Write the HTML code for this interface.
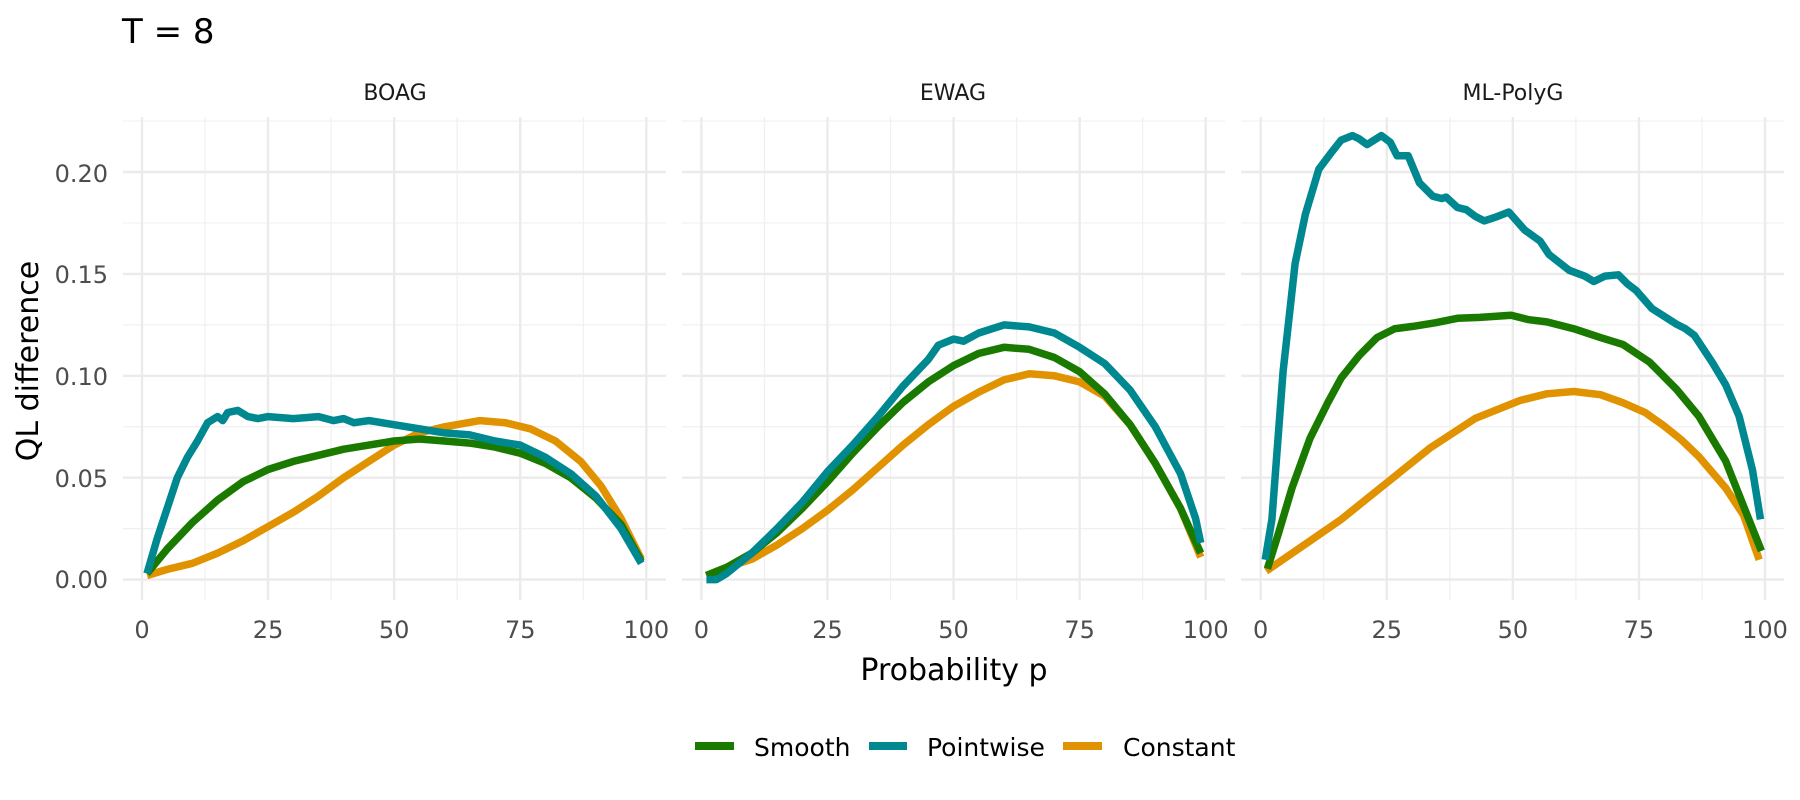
<!DOCTYPE html>
<html><head><meta charset="utf-8"><style>
html,body{margin:0;padding:0;background:#fff}
svg{display:block}
text{font-family:"DejaVu Sans","Liberation Sans",sans-serif}
</style></head><body>
<svg id="s" width="1800" height="800" xmlns="http://www.w3.org/2000/svg">
<rect width="1800" height="800" fill="#fff"/>
<text x="122" y="43" font-size="34" fill="#000">T = 8</text>
<g id="grid"></g>
<g id="series" fill="none" stroke-width="7.5" stroke-linejoin="round" stroke-linecap="butt"></g>
<g font-size="24" fill="#4d4d4d" text-anchor="end">
<text x="108" y="588">0.00</text>
<text x="108" y="487">0.05</text>
<text x="108" y="385">0.10</text>
<text x="108" y="283">0.15</text>
<text x="108" y="182">0.20</text>
</g>
<g id="xt" font-size="24" fill="#4d4d4d" text-anchor="middle"></g>
<g font-size="22" fill="#1a1a1a" text-anchor="middle">
<text x="395" y="100">BOAG</text>
<text x="953" y="100">EWAG</text>
<text x="1513" y="100">ML-PolyG</text>
</g>
<text x="954" y="680" font-size="30" text-anchor="middle" fill="#000">Probability p</text>
<text transform="translate(38,361) rotate(-90)" font-size="30" text-anchor="middle" fill="#000">QL difference</text>
<g stroke-width="8">
<line x1="695" y1="746" x2="734" y2="746" stroke="#1a7a00"/>
<line x1="869" y1="746" x2="907" y2="746" stroke="#008890"/>
<line x1="1063" y1="746" x2="1102" y2="746" stroke="#e09200"/>
</g>
<g font-size="25" fill="#000">
<text x="754" y="756">Smooth</text>
<text x="927" y="756">Pointwise</text>
<text x="1123" y="756">Constant</text>
</g>
</svg>
<script>
var NS="http://www.w3.org/2000/svg";
var panels=[{x0:142,pl:123,pr:666},{x0:701.4,pl:682,pr:1225},{x0:1260.7,pl:1241,pr:1784}];
var sx=5.043, y0=579.6, sy=101.9/0.05;
function el(t,a,p){var e=document.createElementNS(NS,t);for(var k in a)e.setAttribute(k,a[k]);p.appendChild(e);return e;}
var g=document.getElementById('grid'), xt=document.getElementById('xt');
panels.forEach(function(P){
  for(var v=0.025;v<0.23;v+=0.05){var y=y0-v*sy;el('line',{x1:P.pl,x2:P.pr,y1:y,y2:y,stroke:'#f0f0f0','stroke-width':1.2},g);}
  for(var p=12.5;p<100;p+=25){var x=P.x0+p*sx;el('line',{x1:x,x2:x,y1:117,y2:600,stroke:'#f0f0f0','stroke-width':1.2},g);}
  for(var v=0;v<0.23;v+=0.05){var y=y0-v*sy;el('line',{x1:P.pl,x2:P.pr,y1:y,y2:y,stroke:'#ebebeb','stroke-width':2.4},g);}
  for(var p=0;p<=100;p+=25){var x=P.x0+p*sx;el('line',{x1:x,x2:x,y1:117,y2:600,stroke:'#ebebeb','stroke-width':2.4},g);
    var t=el('text',{x:x,y:638},xt);t.textContent=p;}
});
var C={s:'#1a7a00',p:'#008890',c:'#e09200'};
var D=[
{s:[[1,0.003],[5,0.015],[10,0.028],[15,0.039],[20,0.048],[25,0.054],[30,0.058],[35,0.061],[40,0.064],[45,0.066],[50,0.068],[55,0.069],[60,0.068],[65,0.067],[70,0.065],[75,0.062],[80,0.057],[85,0.050],[90,0.040],[95,0.027],[99,0.009]],
 p:[[1,0.003],[3,0.02],[5,0.035],[7,0.05],[9,0.06],[11,0.068],[13,0.077],[15,0.080],[16,0.078],[17,0.082],[19,0.083],[21,0.080],[23,0.079],[25,0.080],[30,0.079],[35,0.080],[38,0.078],[40,0.079],[42,0.077],[45,0.078],[50,0.076],[55,0.074],[60,0.072],[65,0.071],[70,0.068],[75,0.066],[80,0.060],[85,0.052],[90,0.041],[95,0.025],[99,0.008]],
 c:[[1,0.002],[5,0.005],[10,0.008],[15,0.013],[20,0.019],[25,0.026],[30,0.033],[35,0.041],[40,0.050],[45,0.058],[50,0.066],[55,0.072],[60,0.075],[67,0.078],[72,0.077],[77,0.074],[82,0.068],[87,0.058],[91,0.046],[95,0.030],[99,0.010]]},
{s:[[1,0.002],[5,0.006],[10,0.013],[15,0.023],[20,0.035],[25,0.048],[30,0.062],[35,0.075],[40,0.087],[45,0.097],[50,0.105],[55,0.111],[60,0.114],[65,0.113],[70,0.109],[75,0.102],[80,0.091],[85,0.076],[90,0.057],[95,0.035],[99,0.013]],
 p:[[1,0],[3,0],[5,0.003],[10,0.013],[15,0.025],[20,0.038],[25,0.053],[30,0.066],[35,0.080],[40,0.095],[45,0.108],[47,0.115],[50,0.118],[52,0.117],[55,0.121],[60,0.125],[65,0.124],[70,0.121],[75,0.114],[80,0.106],[85,0.093],[90,0.075],[95,0.052],[98,0.030],[99,0.018]],
 c:[[1,0.002],[5,0.006],[10,0.010],[15,0.017],[20,0.025],[25,0.034],[30,0.044],[35,0.055],[40,0.066],[45,0.076],[50,0.085],[55,0.092],[60,0.098],[65,0.101],[70,0.100],[75,0.097],[80,0.090],[85,0.076],[90,0.057],[95,0.035],[99,0.011]]},
null];
function Z(a){return a.map(function(q){return [(q[0]-360)/11.28,(1164-q[1])/227*0.05];});}
D[2]={
 p:Z([[370,1120],[385,1030],[410,700],[437,460],[460,350],[490,250],[520,210],[540,185],[565,175],[580,182],[598,195],[630,175],[650,190],[665,220],[690,220],[715,280],[745,310],[765,315],[775,312],[800,335],[820,340],[840,355],[860,365],[890,355],[915,345],[950,385],[985,410],[1005,440],[1050,475],[1085,488],[1105,500],[1130,488],[1160,485],[1180,505],[1200,520],[1235,560],[1290,595],[1310,605],[1330,620],[1370,680],[1400,730],[1430,800],[1460,920],[1478,1030]]),
 s:Z([[375,1140],[400,1060],[430,960],[470,850],[510,770],[540,715],[580,665],[620,625],[660,605],[700,600],[750,592],[800,582],[850,580],[920,575],[960,585],[1000,590],[1060,605],[1120,625],[1170,640],[1230,680],[1290,740],[1340,800],[1400,900],[1440,1000],[1480,1100]]),
 c:Z([[372,1145],[460,1085],[540,1030],[640,950],[740,870],[840,805],[940,765],[1000,750],[1060,745],[1120,752],[1170,770],[1220,792],[1260,820],[1300,852],[1340,890],[1400,960],[1440,1020],[1475,1120]])
};
var sg=document.getElementById('series');
panels.forEach(function(P,i){
  ['c','s','p'].forEach(function(k){
    var pts=D[i][k].map(function(q){return (P.x0+q[0]*sx).toFixed(1)+','+(y0-q[1]*sy).toFixed(1);}).join(' ');
    el('polyline',{points:pts,stroke:C[k]},sg);
  });
});
</script>
</body></html>
